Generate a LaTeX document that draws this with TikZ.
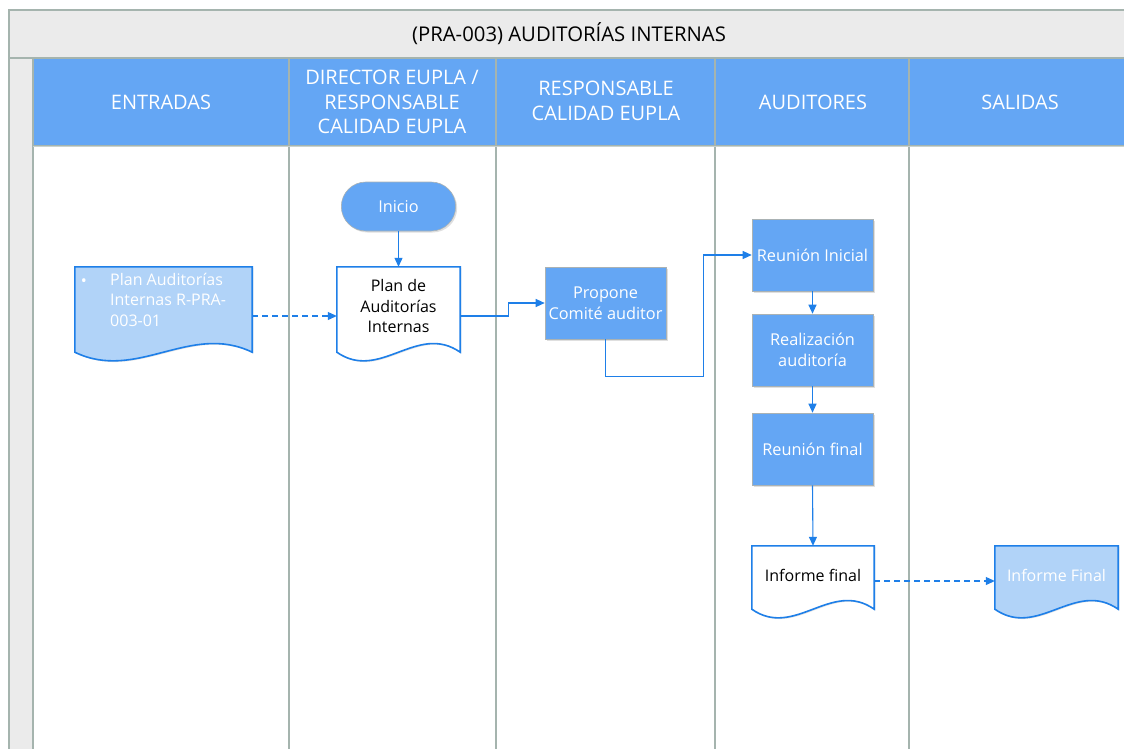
\documentclass[tikz,border=0pt]{standalone}
\usepackage{fontspec}
\setmainfont{Open Sans}
\usetikzlibrary{arrows.meta,shadows,calc,shapes.misc}
\definecolor{hdrblue}{RGB}{100,166,244}
\definecolor{docfill}{RGB}{177,211,248}
\definecolor{lineblue}{RGB}{30,127,232}
\definecolor{lanegray}{RGB}{165,180,174}
\definecolor{barfill}{RGB}{235,235,235}
\definecolor{boxedge}{RGB}{170,178,180}
\tikzset{
  lane/.style={draw=lanegray, line width=1.3pt},
  hdrtext/.style={text=white, align=center, font=\fontsize{20}{24.5}\selectfont},
  proc/.style={rectangle, fill=hdrblue, draw=boxedge, line width=0.6pt, minimum width=121, minimum height=72, text=white, align=center, font=\fontsize{16.3}{21}\selectfont, drop shadow={shadow xshift=1.5pt, shadow yshift=-1.5pt, opacity=0.25}},
  term/.style={rounded rectangle, fill=hdrblue, draw=boxedge, line width=0.6pt, minimum width=121, minimum height=49, text=white, font=\fontsize{16.3}{21}\selectfont, drop shadow={shadow xshift=1.5pt, shadow yshift=-1.5pt, opacity=0.25}},
  docbox/.style={rectangle, draw=none, inner sep=0pt},
  doctext/.style={align=center, font=\fontsize{16}{20.5}\selectfont},
  docline/.style={draw=lineblue, line width=1.6pt, line join=miter},
  flow/.style={draw=lineblue, line width=1.1pt, -{Triangle[length=9pt,width=8pt]}},
  flowd/.style={flow, dash pattern=on 6pt off 4pt},
}
% #1 node name, #2 fill, #3 offset of wave base above node bottom
\newcommand{\docoutline}[3]{%
  \path[docline, fill=#2, drop shadow={shadow xshift=1.2pt, shadow yshift=-1.2pt, opacity=0.2}]
    (#1.north west) -- (#1.north east) -- ([yshift=#3]#1.south east)
    .. controls ($([yshift=#3]#1.south east)!0.35!([yshift=#3]#1.south west)+(0pt,30pt)$)
       and ($([yshift=#3]#1.south east)!0.65!([yshift=#3]#1.south west)+(0pt,-30pt)$)
    .. ([yshift=#3]#1.south west) -- cycle;}
\begin{document}
\begin{tikzpicture}[x=1pt,y=-1pt]
\useasboundingbox (0,0) rectangle (1124,749);
\clip (0,0) rectangle (1124,749);
\fill[white] (0,0) rectangle (1124,749);
% title bar
\draw[lane, fill=barfill] (9,10) rectangle (1140,58);
\node[font=\fontsize{20.3}{22}\selectfont] (title) at (569,34) {(PRA-003) AUDITORÍAS INTERNAS};
% left strip
\draw[lane, fill=barfill] (9,58) rectangle (33,760);
% header
\draw[lane, fill=hdrblue] (33,58) rectangle (1140,146);
\foreach \xx in {289,496,715,909} { \draw[lane] (\xx,58) -- (\xx,760); }
\draw[draw=lanegray!60, line width=0.6pt] (33,146) -- (1140,146);
\node[hdrtext] (h1) at (161,102) {ENTRADAS};
\node[hdrtext] (h2) at (392,102) {DIRECTOR EUPLA /\\RESPONSABLE\\CALIDAD EUPLA};
\node[hdrtext] (h3) at (606,101) {RESPONSABLE\\CALIDAD EUPLA};
\node[hdrtext] (h4) at (813,102) {AUDITORES};
\node[hdrtext] (h5) at (1020,102) {SALIDAS};

% nodes
\node[term] (inicio) at (398.5,206.5) {Inicio};
\node[docbox, minimum width=123, minimum height=98] (plan) at (398.5,316) {};
\docoutline{plan}{white}{13pt}
\node[doctext] (plant) at (398.5,306) {Plan de\\Auditorías\\Internas};

\node[docbox, minimum width=177, minimum height=98] (input) at (163.5,316) {};
\docoutline{input}{docfill}{13pt}
\node[text=white, font=\fontsize{16}{16}\selectfont, inner sep=0pt] (bul) at (84,283) {•};
\node[doctext, text=white, align=left, anchor=north west, inner sep=0pt] (inputt) at (110,273) {Plan Auditorías\\Internas R-PRA-\\003-01};

\node[proc] (prop) at (605.5,303) {Propone\\Comité auditor};
\node[proc] (ri) at (812.5,255) {Reunión Inicial};
\node[proc] (real) at (812.5,350) {Realización\\auditoría};
\node[proc] (rf) at (812.5,449) {Reunión final};

\node[docbox, minimum width=122, minimum height=70] (inf) at (813,581) {};
\docoutline{inf}{white}{7pt}
\node[doctext] (inft) at (813,575) {Informe final};

\node[docbox, minimum width=123, minimum height=70] (out) at (1056.5,581) {};
\docoutline{out}{docfill}{7pt}
\node[doctext, text=white] (outt) at (1056.5,575) {Informe Final};

% connectors
\draw[flow] (inicio.south) -- (plan.north);
\draw[flowd] (input.east) -- (plan.west);
\draw[flow] (plan.east) -- ++(48,0) |- (prop.west);
\draw[flow] (prop.south) -- ++(0,37) -- ++(98,0) |- (ri.west);
\draw[flow] (ri.south) -- (real.north);
\draw[flow] (real.south) -- (rf.north);
\draw[flow] (rf.south) -- (inf.north);
\draw[flowd] (inf.east) -- (out.west);
\end{tikzpicture}
\end{document}
